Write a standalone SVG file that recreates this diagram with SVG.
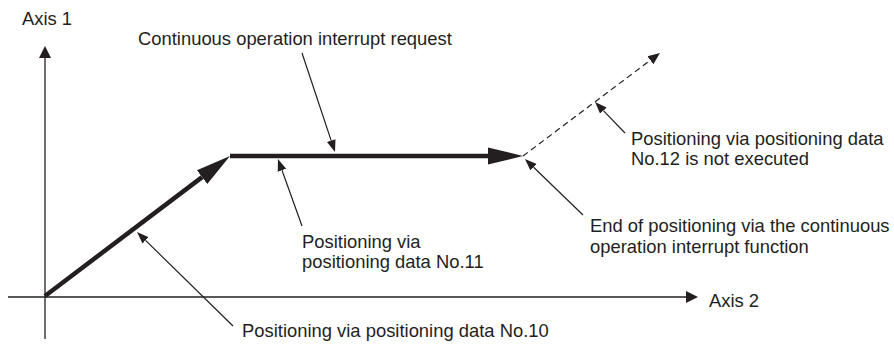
<svg xmlns="http://www.w3.org/2000/svg" width="894" height="345" viewBox="0 0 894 345">
<style>
text{font-family:"Liberation Sans",Arial,sans-serif;font-size:18.4px;fill:#231f20}
.axis{stroke:#231f20;stroke-width:1.3;fill:none}
.thick{stroke:#231f20;stroke-width:4.5;fill:none}
.dash{stroke:#231f20;stroke-width:1.2;fill:none;stroke-dasharray:6 4}
.lead{stroke:#231f20;stroke-width:1.2;fill:none}
</style>
<defs>
<marker id="hThick" markerUnits="userSpaceOnUse" viewBox="0 -10 40 20" markerWidth="40" markerHeight="20" refX="0" refY="0" orient="auto"><path d="M0,-8.5 L35,0 L0,8.5 z" fill="#231f20"/></marker>
<marker id="hAxis" markerUnits="userSpaceOnUse" viewBox="0 -8 14 16" markerWidth="14" markerHeight="16" refX="0" refY="0" orient="auto"><path d="M0,-6 L12,0 L0,6 z" fill="#231f20"/></marker>
<marker id="hLead" markerUnits="userSpaceOnUse" viewBox="0 -6 14 12" markerWidth="14" markerHeight="12" refX="0" refY="0" orient="auto"><path d="M0,-4.5 L12,0 L0,4.5 z" fill="#231f20"/></marker>
<marker id="hDash" markerUnits="userSpaceOnUse" viewBox="0 -6 14 12" markerWidth="14" markerHeight="12" refX="0" refY="0" orient="auto"><path d="M0,-5 L12,0 L0,5 z" fill="#231f20"/></marker>
</defs>
<g id="axis1">
<line class="axis" x1="45" y1="339" x2="45" y2="58" marker-end="url(#hAxis)"/>
<text x="22" y="25">Axis 1</text>
</g>
<g id="axis2">
<line class="axis" x1="8" y1="297" x2="686" y2="297" marker-end="url(#hAxis)"/>
<text x="709" y="307">Axis 2</text>
</g>
<g id="connectors">
<line class="thick" x1="45" y1="296" x2="202.1" y2="177.1" marker-end="url(#hThick)"/>
<line class="thick" x1="230" y1="156" x2="488" y2="156" marker-end="url(#hThick)"/>
<line class="dash" x1="523" y1="156" x2="650.4" y2="60.2" marker-end="url(#hDash)"/>
<line class="lead" x1="302" y1="53" x2="331.2" y2="140.6" marker-end="url(#hLead)"/>
<line class="lead" x1="302" y1="226" x2="282" y2="170.3" marker-end="url(#hLead)"/>
<line class="lead" x1="233" y1="326" x2="145.6" y2="240.4" marker-end="url(#hLead)"/>
<line class="lead" x1="625" y1="133" x2="603.4" y2="110.6" marker-end="url(#hLead)"/>
<line class="lead" x1="583" y1="215" x2="533.6" y2="167.3" marker-end="url(#hLead)"/>
</g>
<g id="label-interrupt-request">
<text x="138" y="45">Continuous operation interrupt request</text>
</g>
<g id="label-no11">
<text x="302" y="248">Positioning via</text>
<text x="302" y="268">positioning data No.11</text>
</g>
<g id="label-end">
<text x="590" y="232">End of positioning via the continuous</text>
<text x="590" y="253">operation interrupt function</text>
</g>
<g id="label-no12">
<text x="631" y="145">Positioning via positioning data</text>
<text x="631" y="165">No.12 is not executed</text>
</g>
<g id="label-no10">
<text x="242" y="337">Positioning via positioning data No.10</text>
</g>
</svg>
